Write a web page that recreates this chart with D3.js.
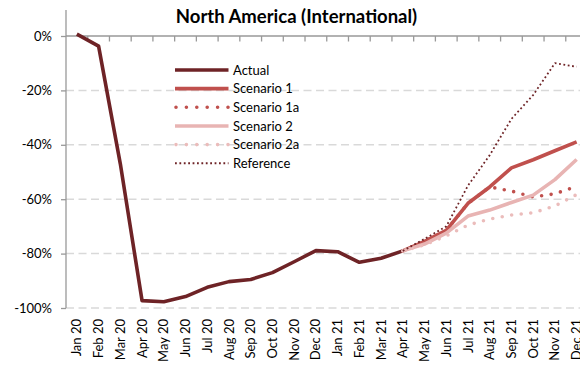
<!DOCTYPE html>
<html>
<head>
<meta charset="utf-8">
<script src="https://cdn.jsdelivr.net/npm/d3@7"></script>
<style>
  html, body { margin: 0; padding: 0; background: #fff; }
  svg { display: block; font-family: Lato, "Open Sans", sans-serif; }
</style>
</head>
<body>
<svg id="chart" width="580" height="366"></svg>
<script>
// Monthly categories, Jan 2020 to Dec 2021
const months = ["Jan 20","Feb 20","Mar 20","Apr 20","May 20","Jun 20","Jul 20","Aug 20","Sep 20","Oct 20","Nov 20","Dec 20",
                "Jan 21","Feb 21","Mar 21","Apr 21","May 21","Jun 21","Jul 21","Aug 21","Sep 21","Oct 21","Nov 21","Dec 21"];

// Observed change vs. 2019 (%), Jan 20 - Apr 21
const actual = [0.7, -3.7, -47, -97.3, -97.7, -95.8, -92.4, -90.3, -89.5, -87, -83, -78.9, -79.3, -83.2, -81.7, -79];

// Projections, Apr 21 - Dec 21 (%)
const scenario1  = [-79, -75.5, -71.5, -61.5, -55.5, -48.5, -45.5, -42.2, -38.9];
const scenario1a = [-79, -75.5, -71.5, -61.5, -55.5, -57, -59.2, -58, -55.3];
const scenario2  = [-79, -76.5, -72.5, -66.2, -64, -61.2, -58.5, -52.8, -45.4];
const scenario2a = [-79, -76.8, -73.5, -69.5, -67.3, -65.8, -65, -62.5, -58.3];
const reference  = [-79, -74.6, -70, -55, -43.8, -30.5, -21.7, -10, -11.3];

const yTicks = [0, -20, -40, -60, -80, -100];

const svg = d3.select("#chart");

const x = d3.scaleBand().domain(months).range([66, 587.5]).padding(0);
const y = d3.scaleLinear().domain([-100, 0]).range([308, 36]);
const cx = m => x(m) + x.bandwidth() / 2;

// Title
svg.append("text")
  .attr("x", 296.5).attr("y", 22.5)
  .attr("text-anchor", "middle")
  .attr("font-weight", "bold")
  .attr("font-size", 18.5)
  .attr("fill", "#000")
  .text("North America (International)");

// Dashed gridlines
svg.append("g").selectAll("line")
  .data(yTicks.filter(d => d !== 0))
  .join("line")
  .attr("x1", 66).attr("x2", 580)
  .attr("y1", d => y(d)).attr("y2", d => y(d))
  .attr("stroke", "#d9d9d9")
  .attr("stroke-width", 1.5)
  .attr("stroke-dasharray", "8 4.5");

// Y axis
const yAxis = d3.axisLeft(y).tickValues(yTicks).tickSize(5).tickFormat(d => d + "%");
const gy = svg.append("g").attr("transform", "translate(66,0)").call(yAxis);
gy.select(".domain").remove();
gy.selectAll(".tick line").attr("stroke", "#999").attr("stroke-width", 1.3);
gy.selectAll(".tick text").attr("font-size", 13).attr("fill", "#000").attr("font-family", "Lato, sans-serif").attr("x", -14);
svg.append("line")
  .attr("x1", 66).attr("x2", 66).attr("y1", 10).attr("y2", 308)
  .attr("stroke", "#999").attr("stroke-width", 1.3);

// Category axis along the 0% line, ticks between months
svg.append("line")
  .attr("x1", 66).attr("x2", 580).attr("y1", y(0)).attr("y2", y(0))
  .attr("stroke", "#999").attr("stroke-width", 1.3);
svg.append("g").selectAll("line")
  .data(months.slice(1))
  .join("line")
  .attr("x1", d => x(d)).attr("x2", d => x(d))
  .attr("y1", y(0)).attr("y2", y(0) + 5.5)
  .attr("stroke", "#999").attr("stroke-width", 1.3);

// Month labels, rotated
svg.append("g").selectAll("text")
  .data(months)
  .join("text")
  .attr("transform", d => `translate(${cx(d)},319) rotate(-90)`)
  .attr("text-anchor", "end")
  .attr("dy", "0.35em")
  .attr("font-size", 13)
  .attr("fill", "#000")
  .text(d => d);

// Series definitions
const proj = months.slice(15);
const series = [
  { name: "Actual",      cats: months.slice(0, 16), vals: actual,     color: "#6e2326", width: 3.6, dash: null,     cap: "butt" },
  { name: "Scenario 1",  cats: proj,                vals: scenario1,  color: "#c0504d", width: 3.6, dash: null,     cap: "butt" },
  { name: "Scenario 1a", cats: proj,                vals: scenario1a, color: "#c0504d", width: 3.6, dash: "0 9.6",  cap: "round" },
  { name: "Scenario 2",  cats: proj,                vals: scenario2,  color: "#e8b4b3", width: 3.6, dash: null,     cap: "butt" },
  { name: "Scenario 2a", cats: proj,                vals: scenario2a, color: "#ebbcbb", width: 3.6, dash: "0 9.6",  cap: "round" },
  { name: "Reference",   cats: proj,                vals: reference,  color: "#6e2326", width: 1.8, dash: "1.8 2.6", cap: "butt" }
];

const line = d3.line().x(d => cx(d[0])).y(d => y(d[1]));

svg.append("g").selectAll("path")
  .data(series)
  .join("path")
  .attr("d", s => line(s.cats.map((c, i) => [c, s.vals[i]])))
  .attr("fill", "none")
  .attr("stroke", s => s.color)
  .attr("stroke-width", s => s.width)
  .attr("stroke-linejoin", "round")
  .attr("stroke-linecap", s => s.cap)
  .attr("stroke-dasharray", s => s.dash);

// Legend
const lg = svg.append("g").selectAll("g")
  .data(series)
  .join("g")
  .attr("transform", (s, i) => `translate(0,${70 + i * 18.65})`);
lg.append("line")
  .attr("x1", s => s.cap === "round" ? 176 : 175).attr("x2", 228.5)
  .attr("y1", 0).attr("y2", 0)
  .attr("stroke", s => s.color)
  .attr("stroke-width", s => s.width)
  .attr("stroke-linecap", s => s.cap)
  .attr("stroke-dasharray", s => s.cap === "round" ? "0 10.4" : s.dash);
lg.append("text")
  .attr("x", 233).attr("y", 0).attr("dy", "0.35em")
  .attr("font-size", 13)
  .attr("fill", "#000")
  .text(s => s.name);
</script>
</body>
</html>
